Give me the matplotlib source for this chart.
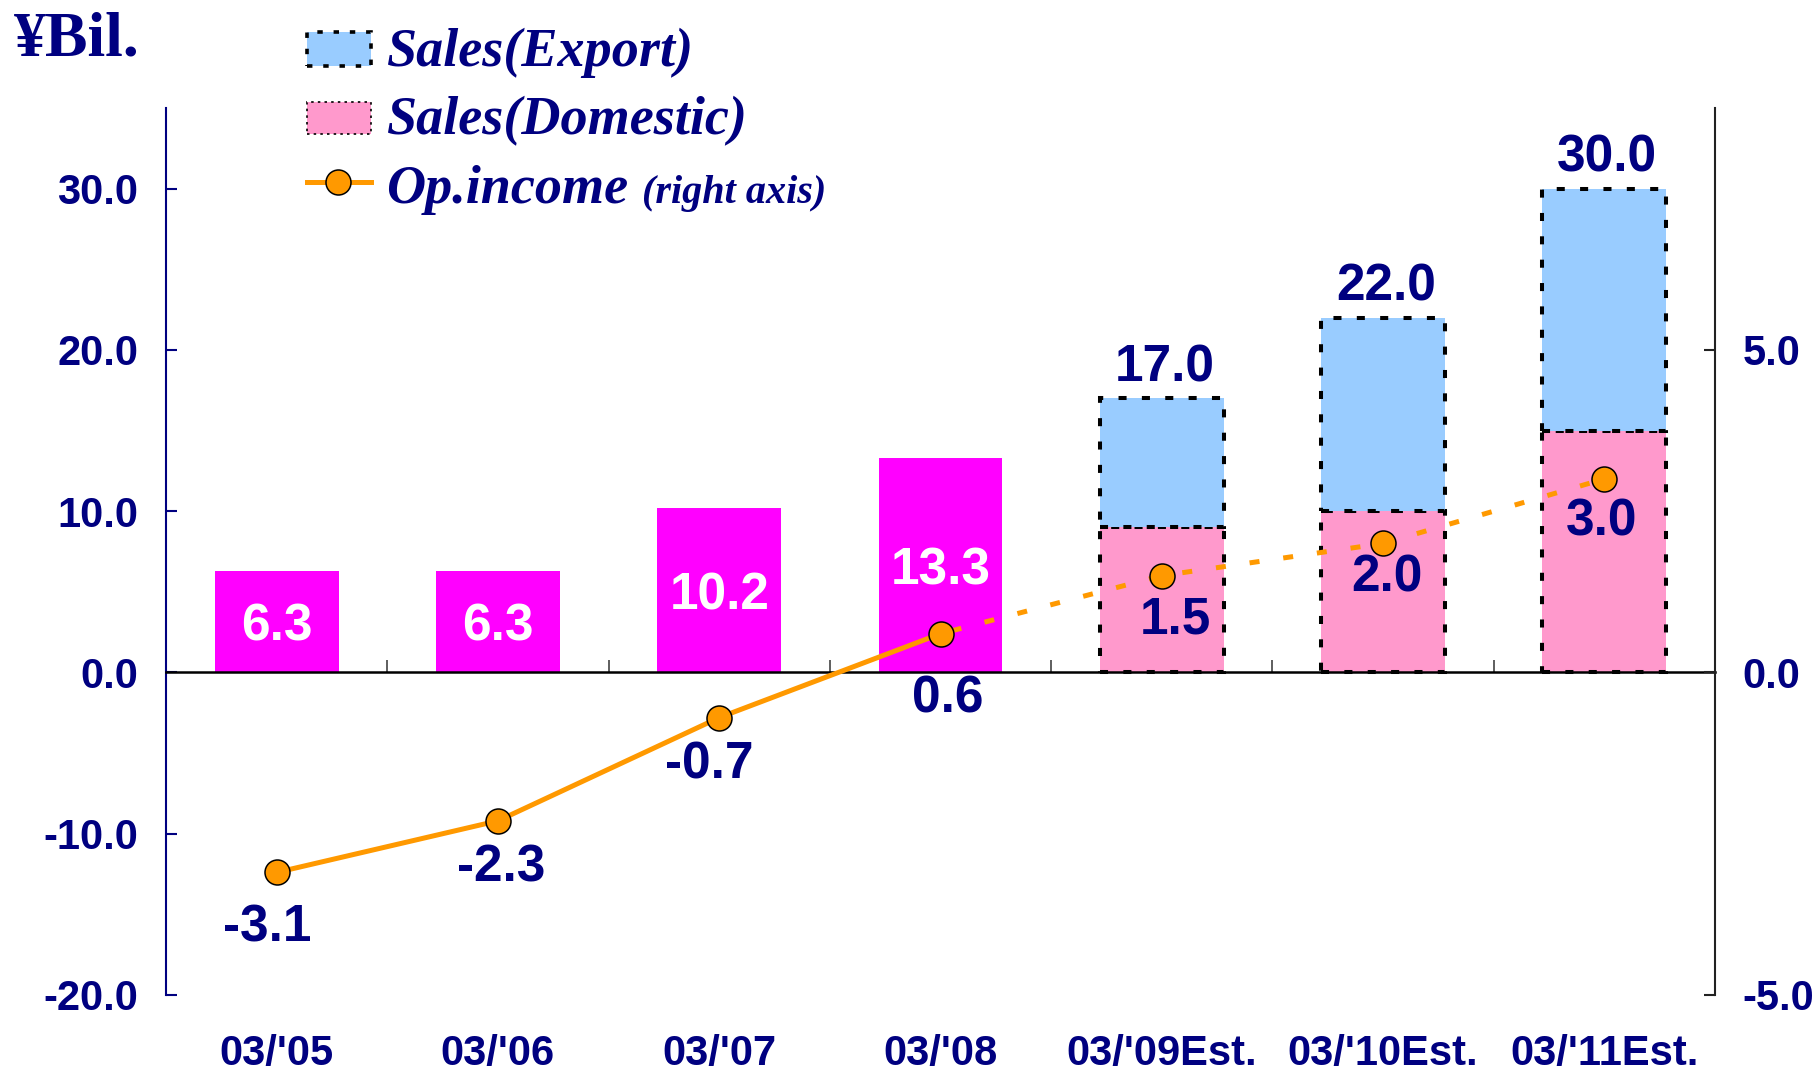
import matplotlib
matplotlib.use("Agg")
import numpy as np
import matplotlib.pyplot as plt
import matplotlib.patches as mpatches
import matplotlib.lines as mlines
import matplotlib.transforms as mtransforms

# =====================================================
# DATA
# =====================================================

categories = ["03/'05", "03/'06", "03/'07", "03/'08",
              "03/'09Est.", "03/'10Est.", "03/'11Est."]

# actual years: one bar (domestic only), estimates: domestic + export
sales_actual = [6.3, 6.3, 10.2, 13.3]
sales_domestic_est = [9.0, 10.0, 15.0]
sales_export_est = [8.0, 12.0, 15.0]

op_income = [-3.1, -2.3, -0.7, 0.6, 1.5, 2.0, 3.0]

left_ticks = [-20, -10, 0, 10, 20, 30]
right_ticks = [-5, 0, 5]

# =====================================================
# STYLE
# =====================================================

NAVY = "#000080"
MAGENTA = "#ff00ff"
PINK = "#ff99cc"
BLUE = "#99ccff"
ORANGE = "#ff9900"

SANS = "Liberation Sans"
SERIF = "Liberation Serif"

W, H = 1818, 1072


def fx(px):
    return px / W


def fy(py):
    return 1 - py / H


# label offsets (points) for op. income labels
op_offsets = [(-7, -40), (2, -34), (-7, -34), (5, -47), (10, -32), (3, -25), (-2, -31)]

# =====================================================
# FIGURE
# =====================================================

fig = plt.figure(figsize=(W / 100, H / 100), dpi=100)
ax = fig.add_axes([fx(166), fy(995), fx(1715) - fx(166), fy(108) - fy(995)])
ax2 = ax.twinx()

x = np.arange(len(categories))
n_act = len(sales_actual)
x_act = x[:n_act]
x_est = x[n_act:]
bw = 0.56

ax.bar(x_act, sales_actual, width=bw, color=MAGENTA, zorder=2)

edge = dict(edgecolor="black", linewidth=2.9, linestyle=(0, (2.0, 3.8)))
ax.bar(x_est, sales_domestic_est, width=bw, color=PINK, zorder=2, **edge)
ax.bar(x_est, sales_export_est, bottom=sales_domestic_est, width=bw,
       color=BLUE, zorder=2, **edge)

# labels in actual bars
for xi, v in zip(x_act, sales_actual):
    ax.annotate(f"{v:.1f}", (xi, v / 2), xytext=(0, -4),
                textcoords="offset points", ha="center", va="center",
                color="white", fontsize=37, fontweight="bold", family=SANS,
                zorder=4)

# totals above estimate bars
for xi, d, e in zip(x_est, sales_domestic_est, sales_export_est):
    ax.annotate(f"{d + e:.1f}", (xi, d + e), xytext=(2, 22),
                textcoords="offset points", ha="center", va="center",
                color=NAVY, fontsize=37, fontweight="bold", family=SANS)

ax.set_xlim(-0.5, len(categories) - 0.5)
ax.set_ylim(-20, 35)
ax2.set_ylim(-5, 8.75)

# =====================================================
# OP. INCOME
# =====================================================

ax2.plot(x[:n_act], op_income[:n_act], color=ORANGE, lw=3.6, zorder=3)
ax2.plot(x[n_act - 1:], op_income[n_act - 1:], color=ORANGE, lw=3.6,
         linestyle=(4.5, (2.0, 4.8)), zorder=3)
ax2.plot(x, op_income, "o", ms=18, mfc=ORANGE, mec="black", mew=1.1,
         ls="none", zorder=5)

for xi, v, off in zip(x, op_income, op_offsets):
    ax2.annotate(f"{v:.1f}", (xi, v), xytext=off, textcoords="offset points",
                 ha="center", va="center", color=NAVY, fontsize=37,
                 fontweight="bold", family=SANS, zorder=6)

# =====================================================
# AXES
# =====================================================

for a in (ax, ax2):
    a.spines["top"].set_visible(False)

ax.spines["right"].set_visible(False)
ax2.spines["left"].set_visible(False)
ax2.spines["bottom"].set_visible(False)

ax.spines["left"].set_color(NAVY)
ax.spines["left"].set_linewidth(1.5)
ax2.spines["right"].set_color("#222222")
ax2.spines["right"].set_linewidth(1.5)

ax.spines["bottom"].set_position(("data", 0))
ax.spines["bottom"].set_color("black")
ax.spines["bottom"].set_linewidth(1.8)
ax.spines["bottom"].set_zorder(3)

ax.set_xticks(np.arange(0.5, len(categories) - 1, 1.0))
ax.set_xticklabels([])
ax.tick_params(axis="x", direction="in", length=9, width=1.1, color="#333333")

trans = mtransforms.blended_transform_factory(ax.transData, ax.transAxes)
for xi, c in zip(x, categories):
    ax.text(xi, -0.066, c, transform=trans, ha="center", va="center",
            color=NAVY, fontsize=30, fontweight="bold", family=SANS)

ax.set_yticks(left_ticks)
ax.set_yticklabels([f"{v:.1f}" for v in left_ticks])
ax.tick_params(axis="y", direction="in", length=8, width=1.5, color=NAVY,
               pad=20, labelcolor=NAVY, labelsize=30)

ax2.set_yticks(right_ticks)
ax2.set_yticklabels([f"{v:.1f}" for v in right_ticks])
ax2.tick_params(axis="y", direction="in", length=8, width=1.5, color="#222222",
                pad=20, labelcolor=NAVY, labelsize=30)

for lab in ax.get_yticklabels() + ax2.get_yticklabels():
    lab.set_fontweight("bold")
    lab.set_family(SANS)

# =====================================================
# TITLE + LEGEND
# =====================================================

fig.text(fx(14), fy(56), "¥Bil.", ha="left", va="baseline", color=NAVY,
         fontsize=46, fontweight="bold", family=SERIF)

leg_font = dict(color=NAVY, fontweight="bold", style="italic", family=SERIF)

p1 = mpatches.Rectangle((fx(307), fy(66)), fx(371) - fx(307), fy(32) - fy(66),
                        transform=fig.transFigure, facecolor=BLUE,
                        edgecolor="black", linewidth=2.6, linestyle=(0, (1.5, 3.0)))
p2 = mpatches.Rectangle((fx(307), fy(134)), fx(371) - fx(307), fy(102) - fy(134),
                        transform=fig.transFigure, facecolor=PINK,
                        edgecolor="black", linewidth=1.2, linestyle=(0, (1.5, 2.5)))
fig.add_artist(p1)
fig.add_artist(p2)
fig.add_artist(mlines.Line2D([fx(307), fx(371)], [fy(182), fy(182)],
                             transform=fig.transFigure, color=ORANGE, lw=3.6))
fig.add_artist(mlines.Line2D([fx(338)], [fy(182)], transform=fig.transFigure,
                             marker="o", ms=18, mfc=ORANGE, mec="black", mew=1.1))

fig.text(fx(386), fy(66), "Sales(Export)", ha="left", va="baseline",
         fontsize=39, **leg_font)
fig.text(fx(386), fy(134), "Sales(Domestic)", ha="left", va="baseline",
         fontsize=39, **leg_font)
fig.text(fx(386), fy(203), "Op.income", ha="left", va="baseline",
         fontsize=39, **leg_font)
fig.text(fx(642), fy(203), "(right axis)", ha="left", va="baseline",
         fontsize=29, **leg_font)

plt.savefig("out.png", dpi=100)
plt.close(fig)
